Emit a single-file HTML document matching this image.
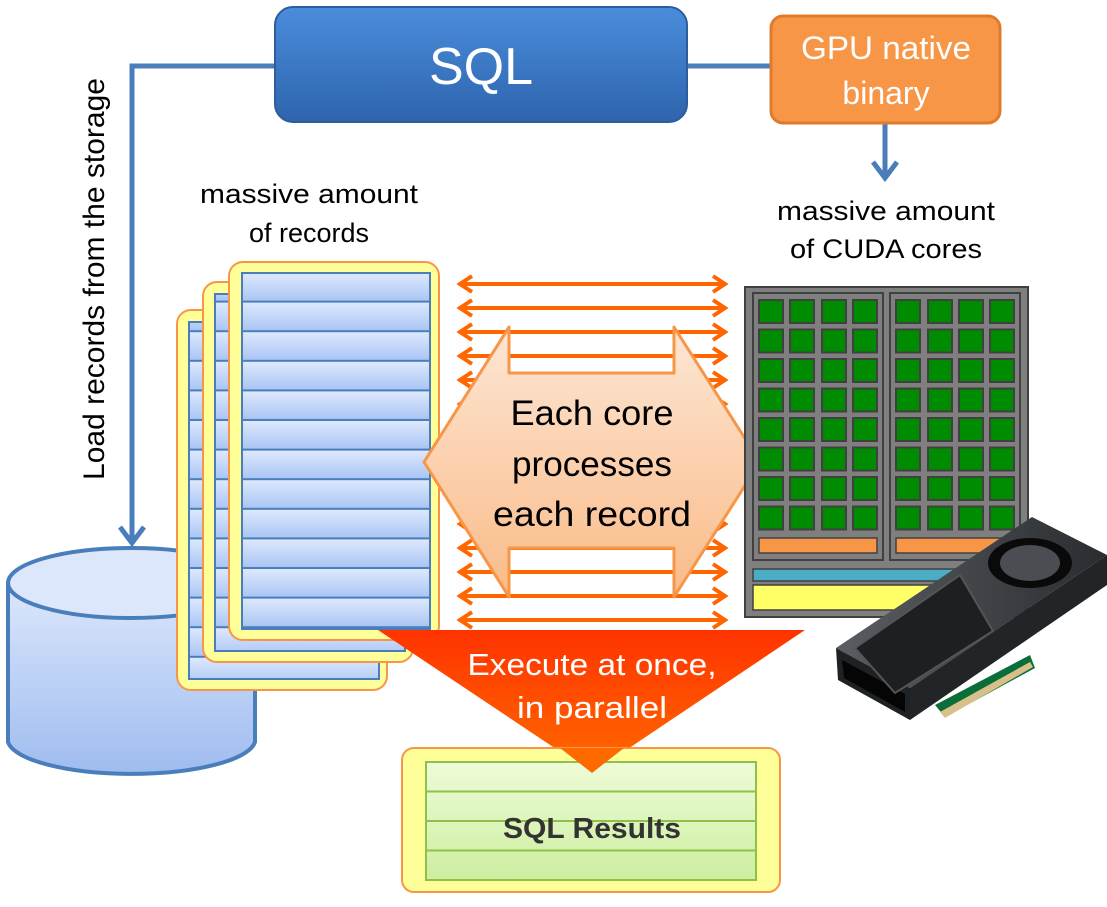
<!DOCTYPE html>
<html><head><meta charset="utf-8"><style>
html,body{margin:0;padding:0;background:#fff;width:1107px;height:907px;overflow:hidden}
text{font-family:"Liberation Sans","DejaVu Sans",sans-serif}
</style></head><body>
<svg width="1107" height="907" viewBox="0 0 1107 907" xmlns="http://www.w3.org/2000/svg">
<defs>
<linearGradient id="sqlg" x1="0" y1="0" x2="0" y2="1"><stop offset="0" stop-color="#4a8ddc"/><stop offset="1" stop-color="#2e64ad"/></linearGradient>
<linearGradient id="rowg" x1="0" y1="0" x2="0" y2="1"><stop offset="0" stop-color="#dde8fd"/><stop offset="1" stop-color="#a7c3f4"/></linearGradient>
<linearGradient id="cylg" x1="0" y1="0" x2="0" y2="1"><stop offset="0" stop-color="#dce7fb"/><stop offset="1" stop-color="#9fbcf0"/></linearGradient>
<linearGradient id="hexg" x1="0" y1="0" x2="0" y2="1"><stop offset="0" stop-color="#fde6d4"/><stop offset="1" stop-color="#fabb88"/></linearGradient>
<linearGradient id="redg" x1="0" y1="0" x2="0" y2="1"><stop offset="0" stop-color="#ff3300"/><stop offset="1" stop-color="#ff6a00"/></linearGradient>
<linearGradient id="grg" x1="0" y1="0" x2="0" y2="1"><stop offset="0" stop-color="#eefbd8"/><stop offset="1" stop-color="#cdeea0"/></linearGradient>
<linearGradient id="cardg" x1="0" y1="0" x2="1" y2="0"><stop offset="0" stop-color="#5a5e62"/><stop offset="1" stop-color="#2a2d30"/></linearGradient>
<pattern id="rows" x="242" y="273" width="10" height="29.6" patternUnits="userSpaceOnUse">
<rect width="10" height="29.6" fill="url(#rowg)"/><rect y="27.6" width="10" height="2" fill="#4a7ebb"/></pattern>
</defs>

<path d="M275 66 H132 V540" fill="none" stroke="#4a7ebb" stroke-width="5"/>
<path d="M120 527 L132 543 L144 527" fill="none" stroke="#4a7ebb" stroke-width="5"/>
<path d="M687 66 H771" stroke="#4a7ebb" stroke-width="5"/>
<path d="M885 123 V175" stroke="#4a7ebb" stroke-width="5"/>
<path d="M873 162 L885 178 L897 162" fill="none" stroke="#4a7ebb" stroke-width="5"/>

<text transform="translate(104,279) rotate(-90)" font-size="30" text-anchor="middle" textLength="402" lengthAdjust="spacingAndGlyphs" fill="#000">Load records from the storage</text>

<rect x="275" y="7" width="412" height="115" rx="18" fill="url(#sqlg)" stroke="#2c5d9c" stroke-width="2"/>
<text x="481" y="84" font-size="52" fill="#fff" text-anchor="middle">SQL</text>

<rect x="771" y="16" width="229" height="107" rx="12" fill="#f79646" stroke="#e07b2e" stroke-width="3"/>
<text x="886" y="59" font-size="32" fill="#fff" text-anchor="middle" textLength="170" lengthAdjust="spacingAndGlyphs">GPU native</text>
<text x="886" y="104" font-size="32" fill="#fff" text-anchor="middle">binary</text>

<text x="309" y="203" font-size="27" text-anchor="middle" textLength="218" lengthAdjust="spacingAndGlyphs">massive amount</text>
<text x="309" y="242" font-size="27" text-anchor="middle">of records</text>
<text x="886" y="220" font-size="27" text-anchor="middle" textLength="218" lengthAdjust="spacingAndGlyphs">massive amount</text>
<text x="886" y="258" font-size="27" text-anchor="middle" textLength="192" lengthAdjust="spacingAndGlyphs">of CUDA cores</text>

<path d="M8 583 V742 A124 35 0 0 0 255 742 V583" fill="url(#cylg)" stroke="#4a7ebb" stroke-width="4"/>
<ellipse cx="131" cy="583" rx="123" ry="35" fill="#dce7fb" stroke="#4a7ebb" stroke-width="4"/>

<rect x="177" y="310" width="210" height="380" rx="14" fill="#ffff99" stroke="#f79646" stroke-width="2"/>
<rect x="189" y="322" width="190" height="357" fill="url(#rows)" stroke="#4a7ebb" stroke-width="2"/>
<rect x="203" y="282" width="210" height="380" rx="14" fill="#ffff99" stroke="#f79646" stroke-width="2"/>
<rect x="215" y="294" width="190" height="357" fill="url(#rows)" stroke="#4a7ebb" stroke-width="2"/>
<rect x="229" y="262" width="210" height="378" rx="14" fill="#ffff99" stroke="#f79646" stroke-width="2"/>
<rect x="242" y="273" width="188" height="356" fill="url(#rows)" stroke="#4a7ebb" stroke-width="2"/>

<g stroke="#ff6600" stroke-width="4" fill="none">
<path d="M460 284H725M460 308H725M460 332H725M460 356H725M460 380H725M460 404H725M460 428H725M460 452H725M460 476H725M460 500H725M460 524H725M460 548H725M460 572H725M460 596H725M460 620H725"/>
<path d="M472 276L460 284L472 292M713 276L725 284L713 292M472 300L460 308L472 316M713 300L725 308L713 316M472 324L460 332L472 340M713 324L725 332L713 340M472 348L460 356L472 364M713 348L725 356L713 364M472 372L460 380L472 388M713 372L725 380L713 388M472 396L460 404L472 412M713 396L725 404L713 412M472 420L460 428L472 436M713 420L725 428L713 436M472 444L460 452L472 460M713 444L725 452L713 460M472 468L460 476L472 484M713 468L725 476L713 484M472 492L460 500L472 508M713 492L725 500L713 508M472 516L460 524L472 532M713 516L725 524L713 532M472 540L460 548L472 556M713 540L725 548L713 556M472 564L460 572L472 580M713 564L725 572L713 580M472 588L460 596L472 604M713 588L725 596L713 604M472 612L460 620L472 628M713 612L725 620L713 628"/>
</g>

<polygon points="424,462 509,327 509,373 674,373 674,327 760,462 674,597 674,548 509,548 509,597" fill="url(#hexg)" stroke="#f79646" stroke-width="3" stroke-linejoin="round"/>
<text x="592" y="425" font-size="35" text-anchor="middle" textLength="163" lengthAdjust="spacingAndGlyphs">Each core</text>
<text x="592" y="476" font-size="35" text-anchor="middle" textLength="160" lengthAdjust="spacingAndGlyphs">processes</text>
<text x="592" y="526" font-size="35" text-anchor="middle" textLength="198" lengthAdjust="spacingAndGlyphs">each record</text>

<rect x="745" y="287" width="283" height="330" fill="#7f7f7f" stroke="#404040" stroke-width="2"/>
<rect x="753" y="293" width="130" height="267" fill="#7f7f7f" stroke="#404040" stroke-width="2"/>
<rect x="890" y="293" width="130" height="267" fill="#7f7f7f" stroke="#404040" stroke-width="2"/>
<g fill="#008c00" stroke="#404040" stroke-width="2">
<g id="col">
<rect x="759" y="300" width="24" height="23"/><rect x="759" y="329.5" width="24" height="23"/><rect x="759" y="359" width="24" height="23"/><rect x="759" y="388.5" width="24" height="23"/><rect x="759" y="418" width="24" height="23"/><rect x="759" y="447.5" width="24" height="23"/><rect x="759" y="477" width="24" height="23"/><rect x="759" y="506.5" width="24" height="23"/>
</g>
<use href="#col" x="31"/><use href="#col" x="63"/><use href="#col" x="94"/>
<use href="#col" x="137"/><use href="#col" x="169"/><use href="#col" x="200"/><use href="#col" x="231"/>
</g>
<rect x="759" y="538" width="118" height="15" fill="#f79646" stroke="#404040" stroke-width="1.5"/>
<rect x="896" y="538" width="118" height="15" fill="#f79646" stroke="#404040" stroke-width="1.5"/>
<rect x="753" y="569" width="267" height="12" fill="#4bacc6" stroke="#404040" stroke-width="1.5"/>
<rect x="753" y="585" width="267" height="25" fill="#ffff66" stroke="#404040" stroke-width="1.5"/>

<polygon points="935,705 1030,655 1035,668 945,717" fill="#0b6e3a"/>
<polygon points="940,712 1030,662 1033,667 945,718" fill="#d8c08a"/>
<polygon points="836,648 1032,517 1107,555 910,688" fill="url(#cardg)"/>
<polygon points="836,648 910,688 910,720 838,680" fill="#1f2225"/>
<polygon points="910,688 1107,555 1107,585 910,720" fill="#222528"/>
<polygon points="842,660 905,694 905,712 844,678" fill="#050505"/>
<polygon points="855,648 960,575 993,631 895,693" fill="#1d1f22" stroke="#555" stroke-width="2"/>
<ellipse cx="1030" cy="563" rx="42" ry="25" fill="#0a0a0a"/>
<ellipse cx="1030" cy="563" rx="30" ry="18" fill="#4a4d52"/>

<polygon points="378,630 805,630 592,773" fill="url(#redg)"/>
<text x="592" y="675" font-size="31" fill="#fff" text-anchor="middle" textLength="249" lengthAdjust="spacingAndGlyphs">Execute at once,</text>
<text x="592" y="718" font-size="31" fill="#fff" text-anchor="middle" textLength="150" lengthAdjust="spacingAndGlyphs">in parallel</text>

<rect x="402" y="748" width="378" height="144" rx="12" fill="#ffff99" stroke="#f79646" stroke-width="2"/>
<rect x="426" y="762" width="330" height="118" fill="url(#grg)" stroke="#8fc14a" stroke-width="2"/>
<path d="M426 791.5H756M426 821H756M426 850.5H756" stroke="#8fc14a" stroke-width="2"/>
<polygon points="560,748 624,748 592,773" fill="#ff6a00"/>
<text x="592" y="838" font-size="29" font-weight="bold" fill="#333" text-anchor="middle" textLength="178" lengthAdjust="spacingAndGlyphs">SQL Results</text>
</svg>
</body></html>
